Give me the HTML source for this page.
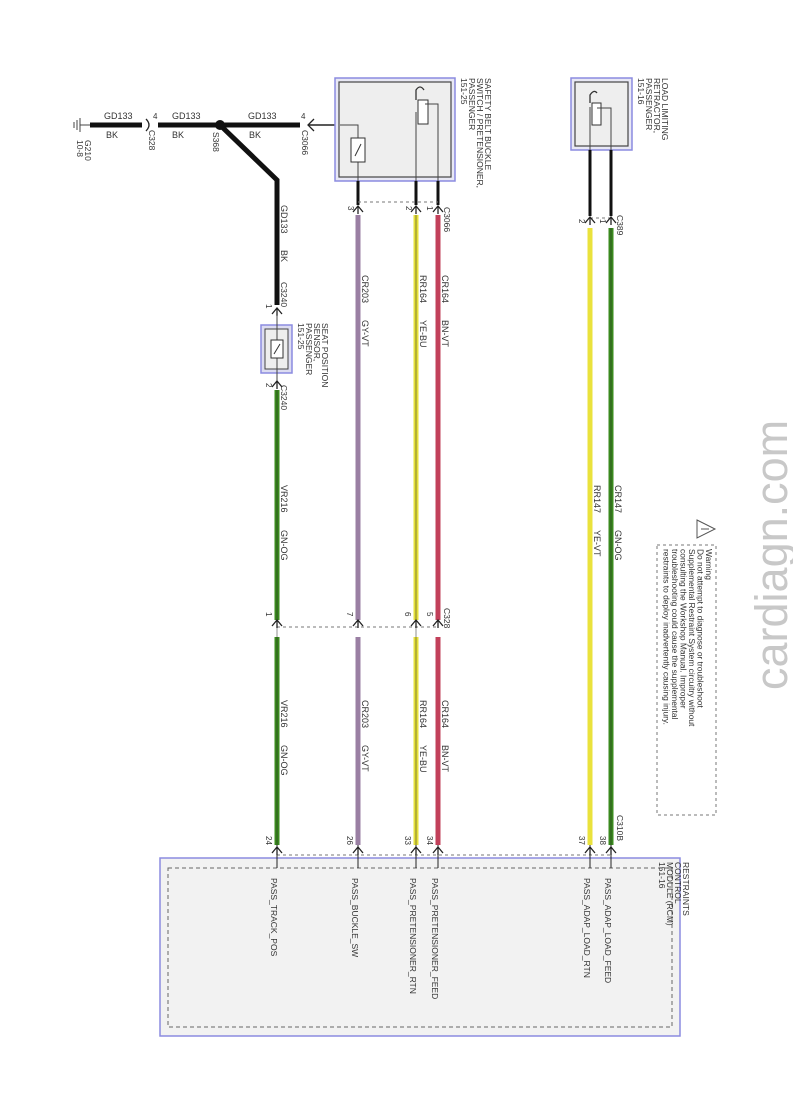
<!DOCTYPE html>
<html><head><meta charset="utf-8"><style>
html,body{margin:0;padding:0;background:#fff}
svg{display:block}
text{font-family:"Liberation Sans",sans-serif;fill:#333}
</style></head><body>
<svg width="793" height="1104" viewBox="0 0 793 1104" xmlns="http://www.w3.org/2000/svg">
<defs>
<g id="cd"><path d="M-5,6 L0,0 L5,6" fill="none" stroke="#222" stroke-width="1.3"/><line x1="0" y1="0" x2="0" y2="8" stroke="#222" stroke-width="1.3"/></g>
</defs>

<!-- watermark -->
<text transform="translate(787,690) rotate(-90)" font-size="45" style="fill:#c8c8c8">cardiagn.com</text>

<!-- ground -->
<g stroke="#444" stroke-width="1">
<line x1="80" y1="118" x2="80" y2="132"/><line x1="77" y1="120" x2="77" y2="130"/><line x1="74" y1="122" x2="74" y2="128"/>
<line x1="80" y1="125" x2="90" y2="125"/>
</g>
<text transform="translate(85,140) rotate(90)" font-size="8.5">G210</text>
<text transform="translate(77,140) rotate(90)" font-size="8.5">10-8</text>

<!-- horizontal black wire -->
<g stroke="#111" stroke-width="5">
<line x1="90" y1="125" x2="142" y2="125"/>
<line x1="158" y1="125" x2="300" y2="125"/>
<polyline points="220,125 277,180 277,305" fill="none"/>
</g>
<circle cx="220" cy="125" r="5" fill="#111"/>
<path d="M146,119 Q152,125 146,131" fill="none" stroke="#222" stroke-width="1.3"/>
<path d="M314,119 L308,125 L314,131" fill="none" stroke="#222" stroke-width="1.3"/>
<line x1="308" y1="125" x2="340" y2="125" stroke="#222" stroke-width="1.5"/>
<text x="104" y="119" font-size="9">GD133</text><text x="106" y="138" font-size="9">BK</text>
<text x="172" y="119" font-size="9">GD133</text><text x="172" y="138" font-size="9">BK</text>
<text x="248" y="119" font-size="9">GD133</text><text x="249" y="138" font-size="9">BK</text>
<text x="153" y="119" font-size="8">4</text><text x="301" y="119" font-size="8">4</text>
<text transform="translate(149,130) rotate(90)" font-size="8.5">C328</text>
<text transform="translate(213,132) rotate(90)" font-size="8.5">S368</text>
<text transform="translate(302,130) rotate(90)" font-size="8.5">C3066</text>

<!-- GD133 vertical labels -->
<text transform="translate(281,205) rotate(90)" font-size="9">GD133</text>
<text transform="translate(281,250) rotate(90)" font-size="9">BK</text>
<text transform="translate(281,282) rotate(90)" font-size="8.5">C3240</text>
<use href="#cd" x="277" y="308"/>
<text transform="translate(266,304) rotate(90)" font-size="8">1</text>

<!-- seat position sensor -->
<rect x="261" y="325" width="31" height="48" fill="#dcdcf0" stroke="#8b8be0" stroke-width="1.5"/>
<rect x="265" y="329" width="23" height="40" fill="#eee" stroke="#444" stroke-width="1"/>
<line x1="277" y1="315" x2="277" y2="385" stroke="#444" stroke-width="1"/>
<rect x="271" y="340" width="12" height="18" fill="#fff" stroke="#333"/>
<line x1="274" y1="354" x2="280" y2="344" stroke="#333"/>
<text transform="translate(322,323) rotate(90)" font-size="8.5">SEAT POSITION</text>
<text transform="translate(314,323) rotate(90)" font-size="8.5">SENSOR,</text>
<text transform="translate(306,323) rotate(90)" font-size="8.5">PASSENGER</text>
<text transform="translate(298,323) rotate(90)" font-size="8.5">151-25</text>
<use href="#cd" x="277" y="381"/>
<text transform="translate(266,383) rotate(90)" font-size="8">2</text>
<text transform="translate(281,385) rotate(90)" font-size="8.5">C3240</text>

<!-- safety belt buckle -->
<rect x="335" y="78" width="120" height="103" fill="#e8e8f4" stroke="#8b8be0" stroke-width="1.5"/>
<rect x="339" y="82" width="112" height="95" fill="#eeeeee" stroke="#444" stroke-width="1.2"/>
<polyline points="340,125 358,125 358,205" fill="none" stroke="#444" stroke-width="1"/>
<rect x="351" y="138" width="14" height="24" fill="#fff" stroke="#333"/>
<line x1="355" y1="156" x2="361" y2="144" stroke="#333"/>
<rect x="418" y="100" width="10" height="24" fill="#fff" stroke="#333"/>
<path d="M416,100 L416,90 Q420,84 424,90" fill="none" stroke="#333" stroke-width="1.3"/>
<polyline points="416,112 416,205" fill="none" stroke="#444"/>
<polyline points="425,104 438,104 438,205" fill="none" stroke="#444"/>
<text transform="translate(485,78) rotate(90)" font-size="8.5">SAFETY BELT BUCKLE</text>
<text transform="translate(477,78) rotate(90)" font-size="8.5">SWITCH / PRETENSIONER,</text>
<text transform="translate(469,78) rotate(90)" font-size="8.5">PASSENGER</text>
<text transform="translate(461,78) rotate(90)" font-size="8.5">151-25</text>
<g stroke="#111" stroke-width="3">
<line x1="358" y1="181" x2="358" y2="205"/><line x1="416" y1="181" x2="416" y2="205"/><line x1="438" y1="181" x2="438" y2="205"/>
</g>
<line x1="358" y1="202" x2="438" y2="202" stroke="#777" stroke-dasharray="3,3"/>
<use href="#cd" x="358" y="206"/><use href="#cd" x="416" y="206"/><use href="#cd" x="438" y="206"/>
<text transform="translate(348,206) rotate(90)" font-size="8">3</text>
<text transform="translate(406,206) rotate(90)" font-size="8">2</text>
<text transform="translate(427,206) rotate(90)" font-size="8">1</text>
<text transform="translate(444,207) rotate(90)" font-size="8.5">C3066</text>

<!-- load limiting retractor -->
<rect x="571" y="78" width="61" height="72" fill="#e8e8f4" stroke="#8b8be0" stroke-width="1.5"/>
<rect x="575" y="82" width="53" height="64" fill="#eeeeee" stroke="#444" stroke-width="1.2"/>
<rect x="592" y="103" width="9" height="22" fill="#fff" stroke="#333"/>
<path d="M590,103 L590,95 Q594,89 597,93" fill="none" stroke="#333" stroke-width="1.3"/>
<line x1="590" y1="107" x2="590" y2="150" stroke="#444"/>
<polyline points="597,108 611,108 611,150" fill="none" stroke="#444"/>
<text transform="translate(662,78) rotate(90)" font-size="8.5">LOAD LIMITING</text>
<text transform="translate(654,78) rotate(90)" font-size="8.5">RETRACTOR,</text>
<text transform="translate(646,78) rotate(90)" font-size="8.5">PASSENGER</text>
<text transform="translate(638,78) rotate(90)" font-size="8.5">151-16</text>
<g stroke="#111" stroke-width="3"><line x1="590" y1="150" x2="590" y2="216"/><line x1="611" y1="150" x2="611" y2="216"/></g>
<line x1="590" y1="218" x2="611" y2="218" stroke="#777" stroke-dasharray="3,3"/>
<use href="#cd" x="590" y="217"/><use href="#cd" x="611" y="217"/>
<text transform="translate(579,219) rotate(90)" font-size="8">2</text>
<text transform="translate(600,219) rotate(90)" font-size="8">1</text>
<text transform="translate(617,215) rotate(90)" font-size="8.5">C389</text>

<!-- colored wires -->
<g stroke-width="5">
<line x1="358" y1="215" x2="358" y2="620" stroke="#9a7fa3"/>
<line x1="358" y1="637" x2="358" y2="845" stroke="#9a7fa3"/>
<line x1="416" y1="215" x2="416" y2="620" stroke="#e5e03a"/>
<line x1="416" y1="637" x2="416" y2="845" stroke="#e5e03a"/>
<line x1="438" y1="215" x2="438" y2="620" stroke="#c2405a"/>
<line x1="438" y1="637" x2="438" y2="845" stroke="#c2405a"/>
<line x1="277" y1="390" x2="277" y2="620" stroke="#3a8a1e"/>
<line x1="277" y1="637" x2="277" y2="845" stroke="#3a8a1e"/>
<line x1="590" y1="228" x2="590" y2="845" stroke="#eae23c"/>
<line x1="611" y1="228" x2="611" y2="845" stroke="#3a8a1e"/>
</g>
<g stroke-width="1" stroke="#222" opacity="0.5">
<line x1="416" y1="215" x2="416" y2="845"/><line x1="611" y1="228" x2="611" y2="845"/><line x1="277" y1="390" x2="277" y2="845"/>
</g>

<!-- wire labels -->
<g font-size="9">
<text transform="translate(362,275) rotate(90)">CR203</text><text transform="translate(362,320) rotate(90)">GY-VT</text>
<text transform="translate(420,275) rotate(90)">RR164</text><text transform="translate(420,320) rotate(90)">YE-BU</text>
<text transform="translate(442,275) rotate(90)">CR164</text><text transform="translate(442,320) rotate(90)">BN-VT</text>
<text transform="translate(281,485) rotate(90)">VR216</text><text transform="translate(281,530) rotate(90)">GN-OG</text>
<text transform="translate(594,485) rotate(90)">RR147</text><text transform="translate(594,530) rotate(90)">YE-VT</text>
<text transform="translate(615,485) rotate(90)">CR147</text><text transform="translate(615,530) rotate(90)">GN-OG</text>
<text transform="translate(362,700) rotate(90)">CR203</text><text transform="translate(362,745) rotate(90)">GY-VT</text>
<text transform="translate(420,700) rotate(90)">RR164</text><text transform="translate(420,745) rotate(90)">YE-BU</text>
<text transform="translate(442,700) rotate(90)">CR164</text><text transform="translate(442,745) rotate(90)">BN-VT</text>
<text transform="translate(281,700) rotate(90)">VR216</text><text transform="translate(281,745) rotate(90)">GN-OG</text>
</g>

<!-- C328 -->
<line x1="277" y1="627" x2="438" y2="627" stroke="#777" stroke-dasharray="3,3"/>
<use href="#cd" x="277" y="620"/><use href="#cd" x="358" y="620"/><use href="#cd" x="416" y="620"/><use href="#cd" x="438" y="620"/>
<g font-size="8">
<text transform="translate(266,612) rotate(90)">1</text>
<text transform="translate(347,612) rotate(90)">7</text>
<text transform="translate(405,612) rotate(90)">6</text>
<text transform="translate(427,612) rotate(90)">5</text>
</g>
<text transform="translate(444,608) rotate(90)" font-size="8.5">C328</text>

<!-- warning -->
<path d="M697,520 L715,529 L697,538 Z" fill="#fff" stroke="#555" stroke-width="1"/>
<line x1="701" y1="529" x2="709" y2="529" stroke="#555"/>
<rect x="657" y="545" width="59" height="270" fill="none" stroke="#777" stroke-dasharray="3,3"/>
<g font-size="8.4" style="fill:#555">
<text transform="translate(706,549) rotate(90)">Warning</text>
<text transform="translate(697.5,549) rotate(90)">Do not attempt to diagnose or troubleshoot</text>
<text transform="translate(689,549) rotate(90)">Supplemental Restraint System circuitry without</text>
<text transform="translate(680.5,549) rotate(90)">consulting the Workshop Manual. Improper</text>
<text transform="translate(672,549) rotate(90)">troubleshooting could cause the supplemental</text>
<text transform="translate(663.5,549) rotate(90)">restraints to deploy inadvertently causing injury.</text>
</g>

<!-- RCM -->
<rect x="160" y="858" width="520" height="178" fill="#f2f2f2" stroke="#8b8be0" stroke-width="1.5"/>
<rect x="168" y="868" width="504" height="159" fill="none" stroke="#666" stroke-dasharray="4,3"/>
<line x1="277" y1="855" x2="611" y2="855" stroke="#777" stroke-dasharray="3,3"/>
<g stroke="#222" stroke-width="1">
<line x1="277" y1="845" x2="277" y2="868"/><line x1="358" y1="845" x2="358" y2="868"/>
<line x1="416" y1="845" x2="416" y2="868"/><line x1="438" y1="845" x2="438" y2="868"/>
<line x1="590" y1="845" x2="590" y2="868"/><line x1="611" y1="845" x2="611" y2="868"/>
</g>
<use href="#cd" x="277" y="847"/><use href="#cd" x="358" y="847"/><use href="#cd" x="416" y="847"/>
<use href="#cd" x="438" y="847"/><use href="#cd" x="590" y="847"/><use href="#cd" x="611" y="847"/>
<g font-size="8">
<text transform="translate(266,836) rotate(90)">24</text>
<text transform="translate(347,836) rotate(90)">26</text>
<text transform="translate(405,836) rotate(90)">33</text>
<text transform="translate(427,836) rotate(90)">34</text>
<text transform="translate(579,836) rotate(90)">37</text>
<text transform="translate(600,836) rotate(90)">38</text>
</g>
<text transform="translate(617,815) rotate(90)" font-size="8.5">C310B</text>
<g font-size="8.5">
<text transform="translate(271,878) rotate(90)">PASS_TRACK_POS</text>
<text transform="translate(352,878) rotate(90)">PASS_BUCKLE_SW</text>
<text transform="translate(410,878) rotate(90)">PASS_PRETENSIONER_RTN</text>
<text transform="translate(432,878) rotate(90)">PASS_PRETENSIONER_FEED</text>
<text transform="translate(584,878) rotate(90)">PASS_ADAP_LOAD_RTN</text>
<text transform="translate(605,878) rotate(90)">PASS_ADAP_LOAD_FEED</text>
</g>
<g font-size="8.5">
<text transform="translate(683,862) rotate(90)">RESTRAINTS</text>
<text transform="translate(675,862) rotate(90)">CONTROL</text>
<text transform="translate(667,862) rotate(90)">MODULE (RCM)</text>
<text transform="translate(659,862) rotate(90)">151-16</text>
</g>
</svg>
</body></html>
